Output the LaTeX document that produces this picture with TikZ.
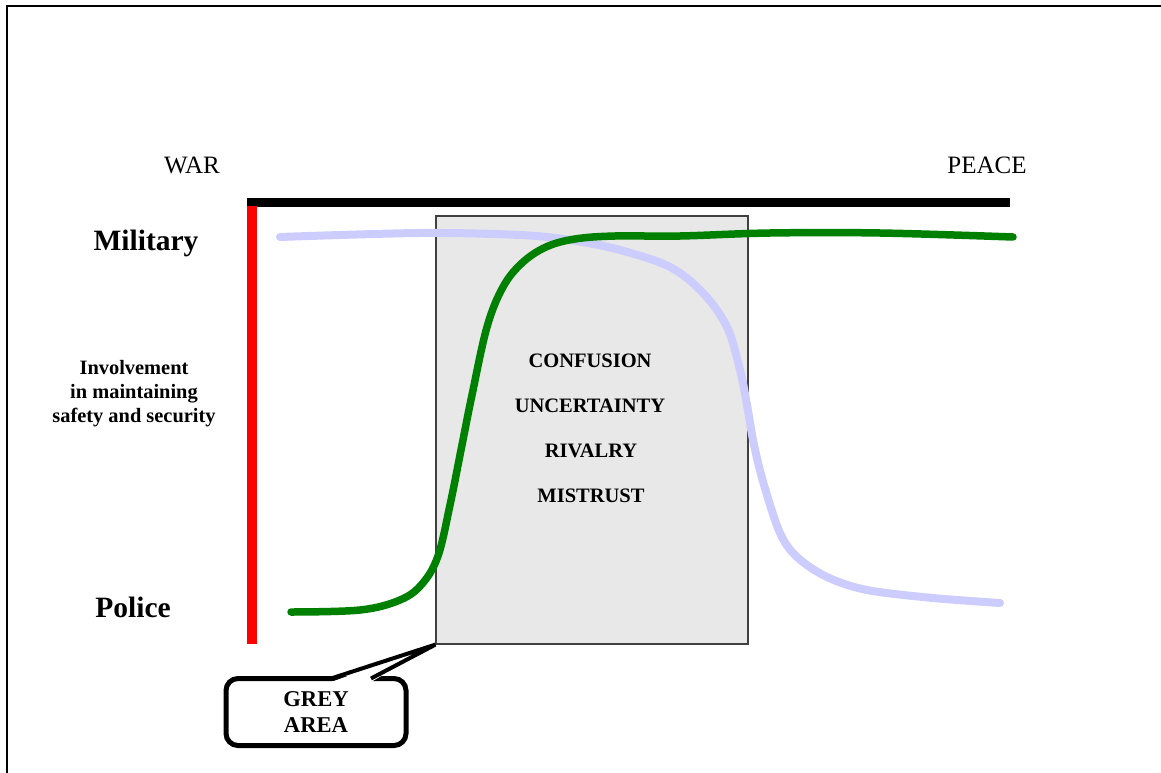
\documentclass[tikz,border=0pt]{standalone}
\usepackage{fontspec}
\setmainfont{Liberation Serif}
\definecolor{boxgrey}{RGB}{232,232,232}
\definecolor{lav}{RGB}{204,204,255}
\definecolor{grn}{RGB}{0,128,0}
\begin{document}
\begin{tikzpicture}[x=1pt,y=-1pt,
  lbl/.style={font=\fontsize{25}{30}\selectfont, inner sep=0pt, anchor=base},
  side/.style={font=\bfseries\fontsize{29.5}{34}\selectfont, inner sep=0pt, anchor=base},
  word/.style={font=\bfseries\fontsize{20.5}{24}\selectfont, inner sep=0pt, anchor=base},
  curve/.style={line width=7.5pt, line cap=round, line join=round},
]
\useasboundingbox (0,0) rectangle (1161,773);
% page frame (left and top)
\draw[line width=2.5pt] (7,773) -- (7,6) -- (1161,6);

% labels
\node[lbl] (war) at (192,173) {WAR};
\node[lbl] (peace) at (987,173) {PEACE};
\node[side] (mil) at (146,250) {Military};
\node[side] (pol) at (133,617) {Police};
\node[word, align=center, font=\bfseries\fontsize{20.4}{24}\selectfont] (inv) at (134,422)
  {Involvement\\in maintaining\\safety and security};

% axes
\coordinate (barL) at (247,202.5);
\coordinate (barR) at (1010,202.5);
\draw[line width=9pt] (barL) -- (barR);
\coordinate (redT) at (252,206);
\coordinate (redB) at (252,644);
\draw[red, line width=10pt] (redT) -- (redB);

% grey area box
\node[draw=black!75, line width=1.2pt, fill=boxgrey, minimum width=312pt, minimum height=428pt, inner sep=0pt] (box) at (592,430) {};
\node[word] (w1) at (590,367) {CONFUSION};
\node[word] (w2) at (590,412) {UNCERTAINTY};
\node[word] (w3) at (591,457) {RIVALRY};
\node[word] (w4) at (591,502) {MISTRUST};

% lavender curve (military involvement)
\draw[lav, curve, line width=8pt] plot[smooth, tension=0.55] coordinates {
 (280,237) (420,233) (520,235) (570,240) (620,250) (670,267) (703,293) (727,327)
 (740,370) (747,405) (754,445) (764,485) (780,533) (797,557) (827,577) (867,590) (933,598) (1000,603)};

% green curve (police involvement)
\draw[grn, curve] plot[smooth, tension=0.6] coordinates {
 (291,612) (360,610) (400,600) (422,584) (438,556) (450,505) (461,450) (472,395)
 (487,327) (503,287) (522,263) (546,247) (575,239) (615,236) (680,236) (770,233) (880,233) (1013,237)};

% callout
\node[draw, line width=5pt, rounded corners=12pt, fill=white, minimum width=180pt, minimum height=67pt,
      align=center, font=\bfseries\fontsize{22.6}{26}\selectfont, inner sep=0pt] (callout) at (316,712)
      {GREY\\AREA};
\fill[white] (331,682) -- (box.south west) -- (371,682) -- cycle;
\draw[line width=4pt, line join=miter] (331,678.5) -- (box.south west) -- (371,678.5);
\end{tikzpicture}
\end{document}
